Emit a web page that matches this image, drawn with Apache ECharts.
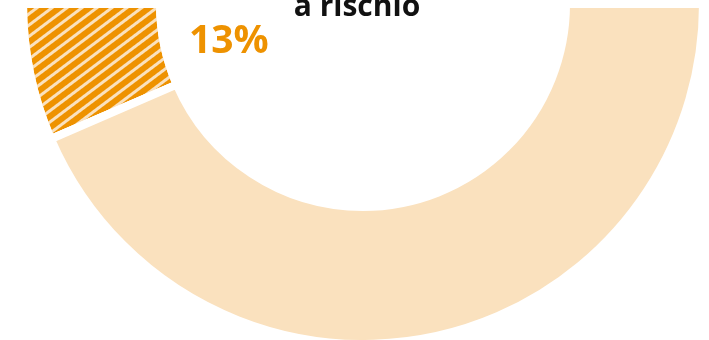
<!DOCTYPE html>
<html>
<head>
<meta charset="utf-8">
<script src="https://cdn.jsdelivr.net/npm/echarts@6/dist/echarts.min.js"></script>
<style>
html,body{margin:0;padding:0;background:#fff;}
#chart{width:709px;height:340px;}
</style>
</head>
<body>
<div id="chart"></div>
<script>
var categories = ['a rischio', 'altro'];
var values = [13, 87];
var titleText = 'a rischio';
var pctLabel = values[0] + '%';

var orange = '#EE9200';
var peach = '#FAE1BE';

var chart = echarts.init(document.getElementById('chart'), null, {renderer: 'canvas'});
chart.setOption({
  animation: false,
  backgroundColor: '#fff',
  series: [{
    type: 'pie',
    center: [363, 4],
    radius: [203, 340],
    startAngle: 180,
    endAngle: 360,
    clockwise: false,
    silent: true,
    label: {show: false},
    labelLine: {show: false},
    itemStyle: {borderColor: '#fff', borderWidth: 8},
    data: categories.map(function (c, i) {
      var item = {name: c, value: values[i]};
      if (i === 0) {
        item.itemStyle = {
          color: orange,
          decal: {
            symbol: 'rect',
            symbolSize: 1,
            color: peach,
            dashArrayX: [1, 0],
            dashArrayY: [3, 6],
            rotation: -37 * Math.PI / 180
          }
        };
      } else {
        item.itemStyle = {color: peach};
      }
      return item;
    })
  }],
  graphic: [
    {type: 'text', z: 100, style: {text: titleText, x: 357, y: 22, textAlign: 'center', textVerticalAlign: 'bottom', font: 'bold 30px "Open Sans"', fill: '#111'}},
    {type: 'text', z: 100, style: {text: pctLabel, x: 189, y: 61, textAlign: 'left', textVerticalAlign: 'bottom', font: 'bold 39px "Open Sans"', fill: orange}}
  ]
});
</script>
</body>
</html>
